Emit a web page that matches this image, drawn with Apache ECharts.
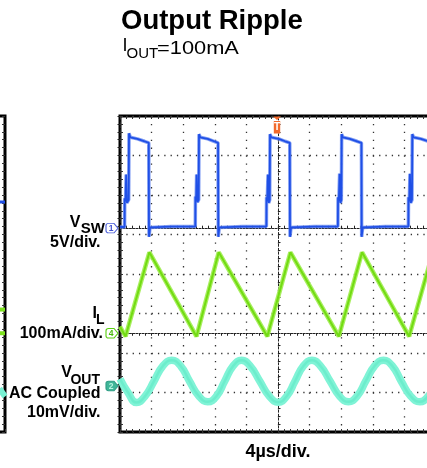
<!DOCTYPE html>
<html><head><meta charset="utf-8">
<script src="https://cdn.jsdelivr.net/npm/echarts@6/dist/echarts.min.js"></script>
<style>html,body{margin:0;padding:0;background:#fff}#c{width:427px;height:468px}</style>
</head><body><div id="c"></div>
<script>
// ---- data (time in µs, trigger at 0, 4 µs/div) ----
const timeRange = [-20, 20];
// V_SW in volts (5 V/div)
const vswData = [
  [-20.0, 0.15],
  [-19.42, 0.15], [-19.40, 3.8], [-19.30, 3.4], [-19.22, 6.8], [-19.12, 3.2], [-18.90, 3.6], [-18.86, 12.0], [-18.70, 11.5], [-17.80, 11.3], [-16.90, 11.0], [-16.36, 10.8], [-16.33, -1.1], [-16.20, 0.1], [-13.5, 0.2],
  [-10.47, 0.2], [-10.45, 4.0], [-10.36, 3.5], [-10.30, 6.8], [-10.20, 3.3], [-10.04, 3.6], [-10.00, 11.9], [-9.85, 11.5], [-8.90, 11.3], [-8.10, 11.0], [-7.59, 10.8], [-7.56, -1.1], [-7.43, 0.1], [-4.5, 0.2],
  [-1.47, 0.2], [-1.45, 3.9], [-1.36, 3.4], [-1.27, 6.8], [-1.17, 3.2], [-1.05, 3.6], [-1.01, 11.9], [-0.86, 11.5], [0.10, 11.3], [0.90, 11.0], [1.49, 10.8], [1.52, -1.1], [1.65, 0.1], [4.6, 0.2],
  [7.58, 0.2], [7.60, 3.9], [7.70, 3.4], [7.80, 6.9], [7.90, 3.2], [8.02, 3.6], [8.06, 11.9], [8.21, 11.5], [9.10, 11.3], [10.00, 11.0], [10.56, 10.8], [10.59, -1.1], [10.72, 0.1], [13.6, 0.2],
  [16.50, 0.2], [16.52, 3.9], [16.62, 3.4], [16.70, 6.9], [16.80, 3.2], [16.96, 3.6], [17.00, 11.9], [17.15, 11.5], [18.10, 11.3], [19.00, 11.0], [19.52, 10.8], [19.55, -1.1], [19.70, 0.1], [20.0, 0.15]
];
// I_L in mA (100 mA/div)
const ilData = [
  [-20, 17], [-19.3, -8], [-16.28, 205], [-10.32, -8], [-7.5, 205], [-1.35, -8],
  [1.57, 205], [7.7, -8], [10.64, 205], [16.6, -8], [19.6, 205], [20, 190]
];
// V_OUT AC coupled in mV (10 mV/div)
const voutData = [
  [-20, 1.8], [-19, -1.6], [-17.9, -4.2], [-16.8, -2.5], [-15.7, 1.2], [-14.6, 5.0], [-13.45, 6.5],
  [-12.3, 5.0], [-11.2, 1.2], [-10.0, -2.6], [-8.9, -4.0], [-7.8, -2.6], [-6.75, 1.2], [-5.7, 5.0],
  [-4.6, 6.5], [-3.5, 5.0], [-2.3, 1.2], [-1.1, -2.6], [0.05, -4.1], [1.1, -2.6], [2.15, 1.2],
  [3.2, 5.0], [4.3, 6.5], [5.4, 5.0], [6.6, 1.2], [7.8, -2.6], [8.9, -4.0], [10.0, -2.6],
  [11.1, 1.2], [12.2, 5.0], [13.35, 6.5], [14.5, 5.0], [15.6, 1.2], [16.8, -2.6], [17.95, -4.0],
  [19.0, -2.6], [20, 0.6]
];
// channel scale ranges (8 divisions each)
const vswRange = [-25.8, 14.2];
const ilRange = [-250, 550];
const voutRange = [-11.65, 68.35];
const divRange = [-4, 4];
// neighbouring panel (only its right edge is visible), in divisions
const leftBlue = [[19.2, 1.82], [20, 1.82]];
const leftGreenA = [[19.2, -0.9], [20, -0.9]];
const leftGreenB = [[19.2, -1.5], [20, -1.5]];
const leftCyan = [[19.3, -2.9], [20, -3.1]];

const FONT = "'Liberation Sans', Arial, Helvetica, sans-serif";
const chart = echarts.init(document.getElementById('c'));

const tickCol = '#333';
function borderAxis(extra) {
  return Object.assign({
    type: 'value', axisLine: { show: false, onZero: false },
    axisTick: { show: true, inside: true, length: 3, lineStyle: { color: tickCol, width: 1 } },
    minorTick: { show: true, splitNumber: 5, length: 3, lineStyle: { color: tickCol, width: 1 } },
    axisLabel: { show: false }, splitLine: { show: false }
  }, extra);
}
function centerAxis(extra, dash) {
  return Object.assign({
    type: 'value',
    axisLine: { show: true, onZero: true, lineStyle: { color: '#222', width: 1, type: dash } },
    axisTick: { show: true, length: 2.5, lineStyle: { color: '#222', width: 1 } },
    minorTick: { show: true, splitNumber: 5, length: 2.5, lineStyle: { color: '#222', width: 1 } },
    axisLabel: { show: false }, splitLine: { show: false }
  }, extra);
}
function txt(text, x, y, size, align, weight, sx) {
  return { type: 'text', x: x, y: y, scaleX: sx || 1, silent: true, z: 100,
    style: { text: text, fill: '#000', font: (weight || 'bold') + ' ' + size + 'px ' + FONT,
      align: align, textAlign: align, verticalAlign: 'middle', textVerticalAlign: 'middle' } };
}
function marker(label, stroke, fill, textCol) {
  return { coord: [timeRange[0], 0], symbol: 'path://M2.5,0 L8,0 L12,5 L8,10 L2.5,10 Q0,10 0,7.5 L0,2.5 Q0,0 2.5,0 Z',
    symbolSize: [12, 9.5], symbolOffset: [-8, 0],
    itemStyle: { color: fill, borderColor: stroke, borderWidth: 1 },
    label: { show: true, formatter: label, color: textCol, fontSize: 8.5, fontWeight: 'bold', fontFamily: FONT, offset: [-1, 0.5] } };
}

const option = {
  animation: false,
  grid: [
    { left: 120, top: 116, width: 316, height: 316, show: true, borderColor: '#000', borderWidth: 3, backgroundColor: 'transparent', outerBoundsMode: 'none', containLabel: false },
    { left: -311, top: 116, width: 316, height: 316, show: true, borderColor: '#000', borderWidth: 3, backgroundColor: 'transparent', outerBoundsMode: 'none', containLabel: false }
  ],
  xAxis: [
    borderAxis({ gridIndex: 0, min: timeRange[0], max: timeRange[1], interval: 4, position: 'bottom',
      splitLine: { show: true, lineStyle: { color: '#333', width: 1.3, type: [1.3, 6.6] } },
      name: '4µs/div.', nameLocation: 'middle', nameGap: 11.5,
      nameTextStyle: { fontSize: 18, fontWeight: 'bold', color: '#000', fontFamily: FONT } }),
    borderAxis({ gridIndex: 0, min: timeRange[0], max: timeRange[1], interval: 4, position: 'top' }),
    centerAxis({ gridIndex: 0, min: timeRange[0], max: timeRange[1], interval: 4, position: 'bottom',
      axisTick: { show: true, inside: true, length: 2.5, lineStyle: { color: '#222', width: 1 } } }, [2, 1.16]),
    centerAxis({ gridIndex: 0, min: timeRange[0], max: timeRange[1], interval: 4, position: 'bottom',
      axisTick: { show: true, inside: false, length: 2.5, lineStyle: { color: '#222', width: 1 } } }, [2, 1.16]),
    borderAxis({ gridIndex: 1, min: timeRange[0], max: timeRange[1], interval: 4, position: 'bottom' })
  ],
  yAxis: [
    { type: 'value', gridIndex: 0, min: vswRange[0], max: vswRange[1], show: false },
    { type: 'value', gridIndex: 0, min: ilRange[0], max: ilRange[1], show: false },
    { type: 'value', gridIndex: 0, min: voutRange[0], max: voutRange[1], show: false },
    borderAxis({ gridIndex: 0, min: divRange[0], max: divRange[1], interval: 1, position: 'left',
      splitLine: { show: true, lineStyle: { color: '#333', width: 1.3, type: [1.3, 5.02] } } }),
    centerAxis({ gridIndex: 0, min: divRange[0], max: divRange[1], interval: 1, position: 'left',
      axisTick: { show: true, inside: true, length: 2.5, lineStyle: { color: '#222', width: 1 } } }, [2, 1.95]),
    centerAxis({ gridIndex: 0, min: divRange[0], max: divRange[1], interval: 1, position: 'left',
      axisTick: { show: true, inside: false, length: 2.5, lineStyle: { color: '#222', width: 1 } } }, [2, 1.95]),
    borderAxis({ gridIndex: 1, min: divRange[0], max: divRange[1], interval: 1, position: 'right',
      splitLine: { show: true, lineStyle: { color: '#333', width: 1.3, type: [1.3, 5.02] } } })
  ],
  series: [
    // V_OUT
    { type: 'line', xAxisIndex: 0, yAxisIndex: 2, data: voutData, symbol: 'none', smooth: 0.5, silent: true, z: 3,
      lineStyle: { color: '#80f3d6', width: 7.5 } },
    { type: 'line', xAxisIndex: 0, yAxisIndex: 2, data: voutData, symbol: 'none', smooth: 0.5, silent: true, z: 4,
      lineStyle: { color: '#6cedcc', width: 2.5 },
      markPoint: { silent: true, data: [ marker('2', '#2f9e86', '#3fb698', '#b8f5e2') ] } },
    // I_L
    { type: 'line', xAxisIndex: 0, yAxisIndex: 1, data: ilData, symbol: 'none', silent: true, z: 5,
      lineStyle: { color: 'rgba(160,236,80,0.9)', width: 4.5 } },
    { type: 'line', xAxisIndex: 0, yAxisIndex: 1, data: ilData, symbol: 'none', silent: true, z: 6,
      lineStyle: { color: '#72dc12', width: 2 },
      markPoint: { silent: true, data: [ marker('4', '#5ccf14', '#ffffff', '#49b90c') ] } },
    // V_SW
    { type: 'line', xAxisIndex: 0, yAxisIndex: 0, data: vswData, symbol: 'none', silent: true, z: 7,
      lineStyle: { color: 'rgba(100,135,240,0.8)', width: 3.5 } },
    { type: 'line', xAxisIndex: 0, yAxisIndex: 0, data: vswData, symbol: 'none', silent: true, z: 8,
      lineStyle: { color: '#1f4fe6', width: 1.8 },
      markPoint: { silent: true, data: [
        marker('1', '#4a5ed8', '#ffffff', '#4050d0'),
        { coord: [0, vswRange[1]], symbol: 'path://M0,0 L8,0 L4,3.5 Z M0.8,4.5 L7.2,4.5 L7.2,17 L0.8,17 Z',
          symbolSize: [8, 17], symbolOffset: [-1, 9], itemStyle: { color: '#f26a2c' },
          label: { show: true, formatter: 'T', color: '#fff', fontSize: 10, fontWeight: 'bold', fontFamily: FONT, offset: [0, 2.5] } }
      ] } },
    // neighbouring panel traces
    { type: 'line', xAxisIndex: 4, yAxisIndex: 6, data: leftBlue, symbol: 'none', silent: true, lineStyle: { color: '#1f4fe6', width: 3 } },
    { type: 'line', xAxisIndex: 4, yAxisIndex: 6, data: leftGreenA, symbol: 'none', silent: true, lineStyle: { color: '#7ce21e', width: 4 } },
    { type: 'line', xAxisIndex: 4, yAxisIndex: 6, data: leftGreenB, symbol: 'none', silent: true, lineStyle: { color: '#7ce21e', width: 4 } },
    { type: 'line', xAxisIndex: 4, yAxisIndex: 6, data: leftCyan, symbol: 'none', silent: true, lineStyle: { color: '#78f0d2', width: 6 } }
  ],
  graphic: [
    txt('Output Ripple', 121, 21, 27.5, 'left'),
    txt('I', 122.5, 46.5, 18, 'left', 'normal'),
    txt('OUT', 126.5, 54, 15, 'left', 'normal'),
    txt('=100mA', 157, 48.5, 18.5, 'left', 'normal', 1.18),
    txt('V', 80.5, 223, 16, 'right'),
    txt('SW', 105, 229, 15, 'right'),
    txt('5V/div.', 100.5, 243, 16, 'right'),
    txt('I', 97, 314, 16, 'right'),
    txt('L', 104.5, 320.5, 14, 'right'),
    txt('100mA/div.', 103, 333.5, 16, 'right'),
    txt('V', 72, 373, 16, 'right'),
    txt('OUT', 100, 380, 14, 'right'),
    txt('AC Coupled', 100.5, 394, 16, 'right'),
    txt('10mV/div.', 100.5, 412.5, 16, 'right')
  ]
};
chart.setOption(option);
</script>
</body></html>
